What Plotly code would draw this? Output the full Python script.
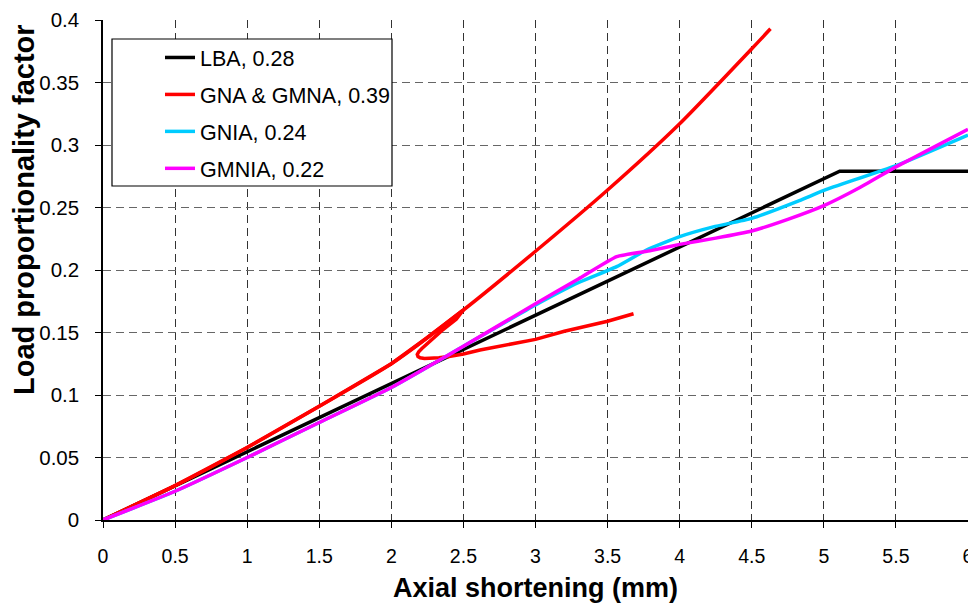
import plotly.graph_objects as go

# ---------------- data ----------------
lba_x = [0, 1, 2, 3, 4, 5.11, 6]
lba_y = [0, 0.0546, 0.109, 0.1638, 0.2184, 0.279, 0.279]

gna_x = [0, 0.5, 1.0, 1.5, 2.0, 2.5, 3.0, 3.5, 4.0, 4.5, 4.63]
gna_y = [0, 0.0275, 0.058, 0.091, 0.125, 0.168, 0.215, 0.264, 0.317, 0.377, 0.393]

gmna_x = [0, 0.5, 1.0, 1.5, 2.0, 2.25, 2.5, 2.45, 2.35, 2.27, 2.21, 2.19, 2.18,
          2.185, 2.2, 2.23, 2.27, 2.33, 2.4, 2.5, 2.615, 2.8, 3.0, 3.2, 3.5, 3.68]
gmna_y = [0, 0.0275, 0.058, 0.091, 0.125, 0.146, 0.168, 0.1605, 0.1515, 0.1435, 0.137,
          0.1345, 0.1325, 0.1308, 0.1298, 0.1292, 0.1292, 0.1298, 0.1308, 0.1328,
          0.136, 0.14, 0.1445, 0.151, 0.159, 0.165]

gnia_x = [0, 0.5, 1.0, 1.5, 2.0, 2.5, 3.0, 3.3, 3.563, 3.77, 4.0, 4.233, 4.5,
          4.83, 5.0, 5.5, 6.0]
gnia_y = [0, 0.023, 0.05, 0.078, 0.106, 0.139, 0.172, 0.19, 0.2027, 0.216, 0.2267,
          0.2345, 0.2413, 0.2555, 0.2637, 0.2835, 0.308]

gmnia_x = [0, 0.5, 1.0, 1.5, 2.0, 2.5, 3.0, 3.3, 3.563, 3.8, 4.0, 4.25, 4.5,
           4.75, 5.0, 5.25, 5.5, 5.75, 6.0]
gmnia_y = [0, 0.023, 0.05, 0.078, 0.106, 0.139, 0.173, 0.193, 0.2107, 0.2155, 0.2205,
           0.2255, 0.2312, 0.2405, 0.2515, 0.266, 0.2825, 0.2975, 0.3125]

x_ticks = [0, 0.5, 1, 1.5, 2, 2.5, 3, 3.5, 4, 4.5, 5, 5.5, 6]
x_ticklabels = ["0", "0.5", "1", "1.5", "2", "2.5", "3", "3.5", "4", "4.5", "5", "5.5", "6"]
y_ticks = [0, 0.05, 0.1, 0.15, 0.2, 0.25, 0.3, 0.35, 0.4]
y_ticklabels = ["0", "0.05", "0.1", "0.15", "0.2", "0.25", "0.3", "0.35", "0.4"]

x_title = "Axial shortening (mm)"
y_title = "Load proportionality factor"

# ---------------- figure ----------------
W = 3.5
FONT = "Liberation Sans, Arial, sans-serif"
fig = go.Figure()
fig.add_trace(go.Scatter(x=lba_x, y=lba_y, mode="lines", name="LBA, 0.28",
                         line=dict(color="#000000", width=W), legendgroup="a"))
fig.add_trace(go.Scatter(x=gna_x, y=gna_y, mode="lines", name="GNA & GMNA, 0.39",
                         line=dict(color="#FF0000", width=W, shape="spline", smoothing=0.6),
                         legendgroup="b"))
fig.add_trace(go.Scatter(x=gmna_x, y=gmna_y, mode="lines", name="GNA & GMNA, 0.39",
                         line=dict(color="#FF0000", width=W),
                         legendgroup="b", showlegend=False))
fig.add_trace(go.Scatter(x=gnia_x, y=gnia_y, mode="lines", name="GNIA, 0.24",
                         line=dict(color="#00CCFF", width=W, shape="spline", smoothing=0.5),
                         legendgroup="c"))
fig.add_trace(go.Scatter(x=gmnia_x, y=gmnia_y, mode="lines", name="GMNIA, 0.22",
                         line=dict(color="#FF00FF", width=W, shape="spline", smoothing=0.4),
                         legendgroup="d"))

# legend frame
fig.add_shape(type="rect", xref="paper", yref="paper",
              x0=0.0104, x1=0.3341, y0=0.668, y1=0.962,
              line=dict(color="black", width=1.2), fillcolor="white", layer="above")

fig.add_annotation(text="<b>" + y_title + "</b>", xref="paper", yref="paper",
                   x=0, y=0.62, xshift=-79, xanchor="center", yanchor="middle",
                   textangle=-90, showarrow=False,
                   font=dict(family=FONT, size=29, color="black"))

fig.update_layout(
    width=966, height=595,
    margin=dict(l=95, r=6, t=12, b=83),
    paper_bgcolor="white", plot_bgcolor="white",
    font=dict(family=FONT, color="black", size=20),
    legend=dict(
        x=0.0659, y=0.966, xanchor="left", yanchor="top",
        bgcolor="rgba(0,0,0,0)", borderwidth=0,
        font=dict(size=21.5, family=FONT),
        traceorder="grouped", tracegroupgap=6, itemwidth=30,
    ),
    xaxis=dict(
        range=[0, 6], tickvals=x_ticks, ticktext=x_ticklabels,
        tickfont=dict(family=FONT, size=19.5),
        showline=True, linecolor="black", linewidth=1.5,
        ticks="outside", ticklen=6, tickcolor="black", ticklabelstandoff=12,
        showgrid=True, gridcolor="#333", griddash="8px,5px", gridwidth=1,
        zeroline=False, automargin=False,
        title=dict(text="<b>" + x_title + "</b>", standoff=14,
                   font=dict(family=FONT, size=27)),
    ),
    yaxis=dict(
        range=[0, 0.4], tickvals=y_ticks, ticktext=y_ticklabels,
        tickfont=dict(size=20.5),
        showline=True, linecolor="black", linewidth=1.5,
        ticks="outside", ticklen=6, tickcolor="black", ticklabelstandoff=12,
        showgrid=True, gridcolor="#666", griddash="8px,5px", gridwidth=1,
        zeroline=False, automargin=False,
    ),
)

fig.write_html("out.html")
